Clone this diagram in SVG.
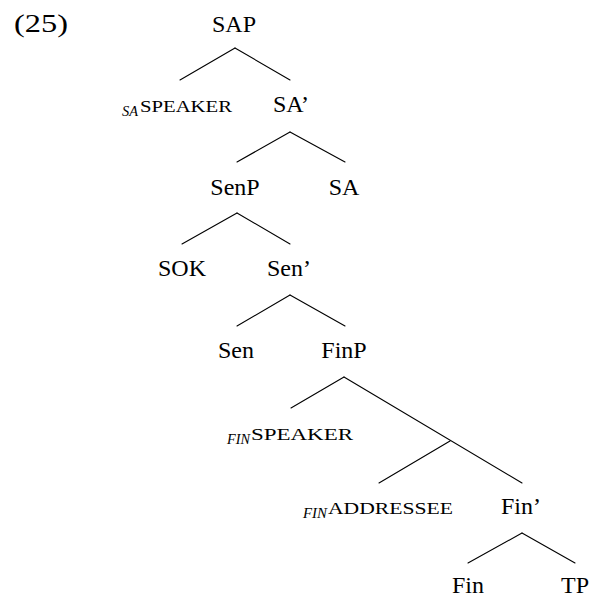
<svg xmlns="http://www.w3.org/2000/svg" width="591" height="598" viewBox="0 0 591 598" font-family="'Liberation Serif', 'DejaVu Serif', serif">
  <style>
    .lbl { font-family: 'Liberation Serif', 'DejaVu Serif', serif; font-size: 24px; text-anchor: middle; fill: #000; }
    .num { font-family: 'Liberation Serif', 'DejaVu Serif', serif; font-size: 25px; fill: #000; }
    .sc { font-family: 'Liberation Serif', 'DejaVu Serif', serif; font-size: 17px; fill: #000; }
    .sub { font-family: 'Liberation Serif', 'DejaVu Serif', serif; font-size: 14px; font-style: italic; fill: #000; }
    .edges line { stroke: #000; stroke-width: 1.1; stroke-linecap: round; }
  </style>
  <rect width="591" height="598" fill="#fff"/>

  <text class="num" x="14" y="32" textLength="54" lengthAdjust="spacingAndGlyphs">(25)</text>

  <!-- tree edges -->
  <g id="connectors" class="edges">
    <line x1="235" y1="48" x2="180" y2="80"/>
    <line x1="235" y1="48" x2="290" y2="80"/>
    <line x1="290" y1="132" x2="237" y2="162"/>
    <line x1="290" y1="132" x2="345" y2="162"/>
    <line x1="237" y1="213" x2="182" y2="244"/>
    <line x1="237" y1="213" x2="290" y2="244"/>
    <line x1="290" y1="295" x2="237" y2="326"/>
    <line x1="290" y1="295" x2="345" y2="326"/>
    <line x1="344" y1="377" x2="291" y2="408"/>
    <line x1="344" y1="377" x2="522" y2="483"/>
    <line x1="450" y1="441" x2="379" y2="483"/>
    <line x1="522" y1="533" x2="468" y2="563"/>
    <line x1="522" y1="533" x2="575" y2="563"/>
  </g>

  <g id="SAP"><text class="lbl" x="234" y="32">SAP</text></g>
  <g id="sa-speaker">
    <text class="sub" x="122" y="116" textLength="16" lengthAdjust="spacingAndGlyphs">SA</text>
    <text class="sc" x="140" y="112" textLength="92" lengthAdjust="spacingAndGlyphs">SPEAKER</text>
  </g>
  <g id="SA-bar"><text class="lbl" x="291" y="112">SA’</text></g>
  <g id="SenP"><text class="lbl" x="235" y="195">SenP</text></g>
  <g id="SA"><text class="lbl" x="344" y="195">SA</text></g>
  <g id="SOK"><text class="lbl" x="182" y="276">SOK</text></g>
  <g id="Sen-bar"><text class="lbl" x="289" y="276">Sen’</text></g>
  <g id="Sen"><text class="lbl" x="236" y="358">Sen</text></g>
  <g id="FinP"><text class="lbl" x="344" y="358">FinP</text></g>
  <g id="fin-speaker">
    <text class="sub" x="227" y="444" textLength="23" lengthAdjust="spacingAndGlyphs">FIN</text>
    <text class="sc" x="251" y="440" textLength="102" lengthAdjust="spacingAndGlyphs">SPEAKER</text>
  </g>
  <g id="fin-addressee">
    <text class="sub" x="303" y="518" textLength="24" lengthAdjust="spacingAndGlyphs">FIN</text>
    <text class="sc" x="328" y="514" textLength="125" lengthAdjust="spacingAndGlyphs">ADDRESSEE</text>
  </g>
  <g id="Fin-bar"><text class="lbl" x="521" y="514">Fin’</text></g>
  <g id="Fin"><text class="lbl" x="468" y="593">Fin</text></g>
  <g id="TP"><text class="lbl" x="575" y="593">TP</text></g>
</svg>
